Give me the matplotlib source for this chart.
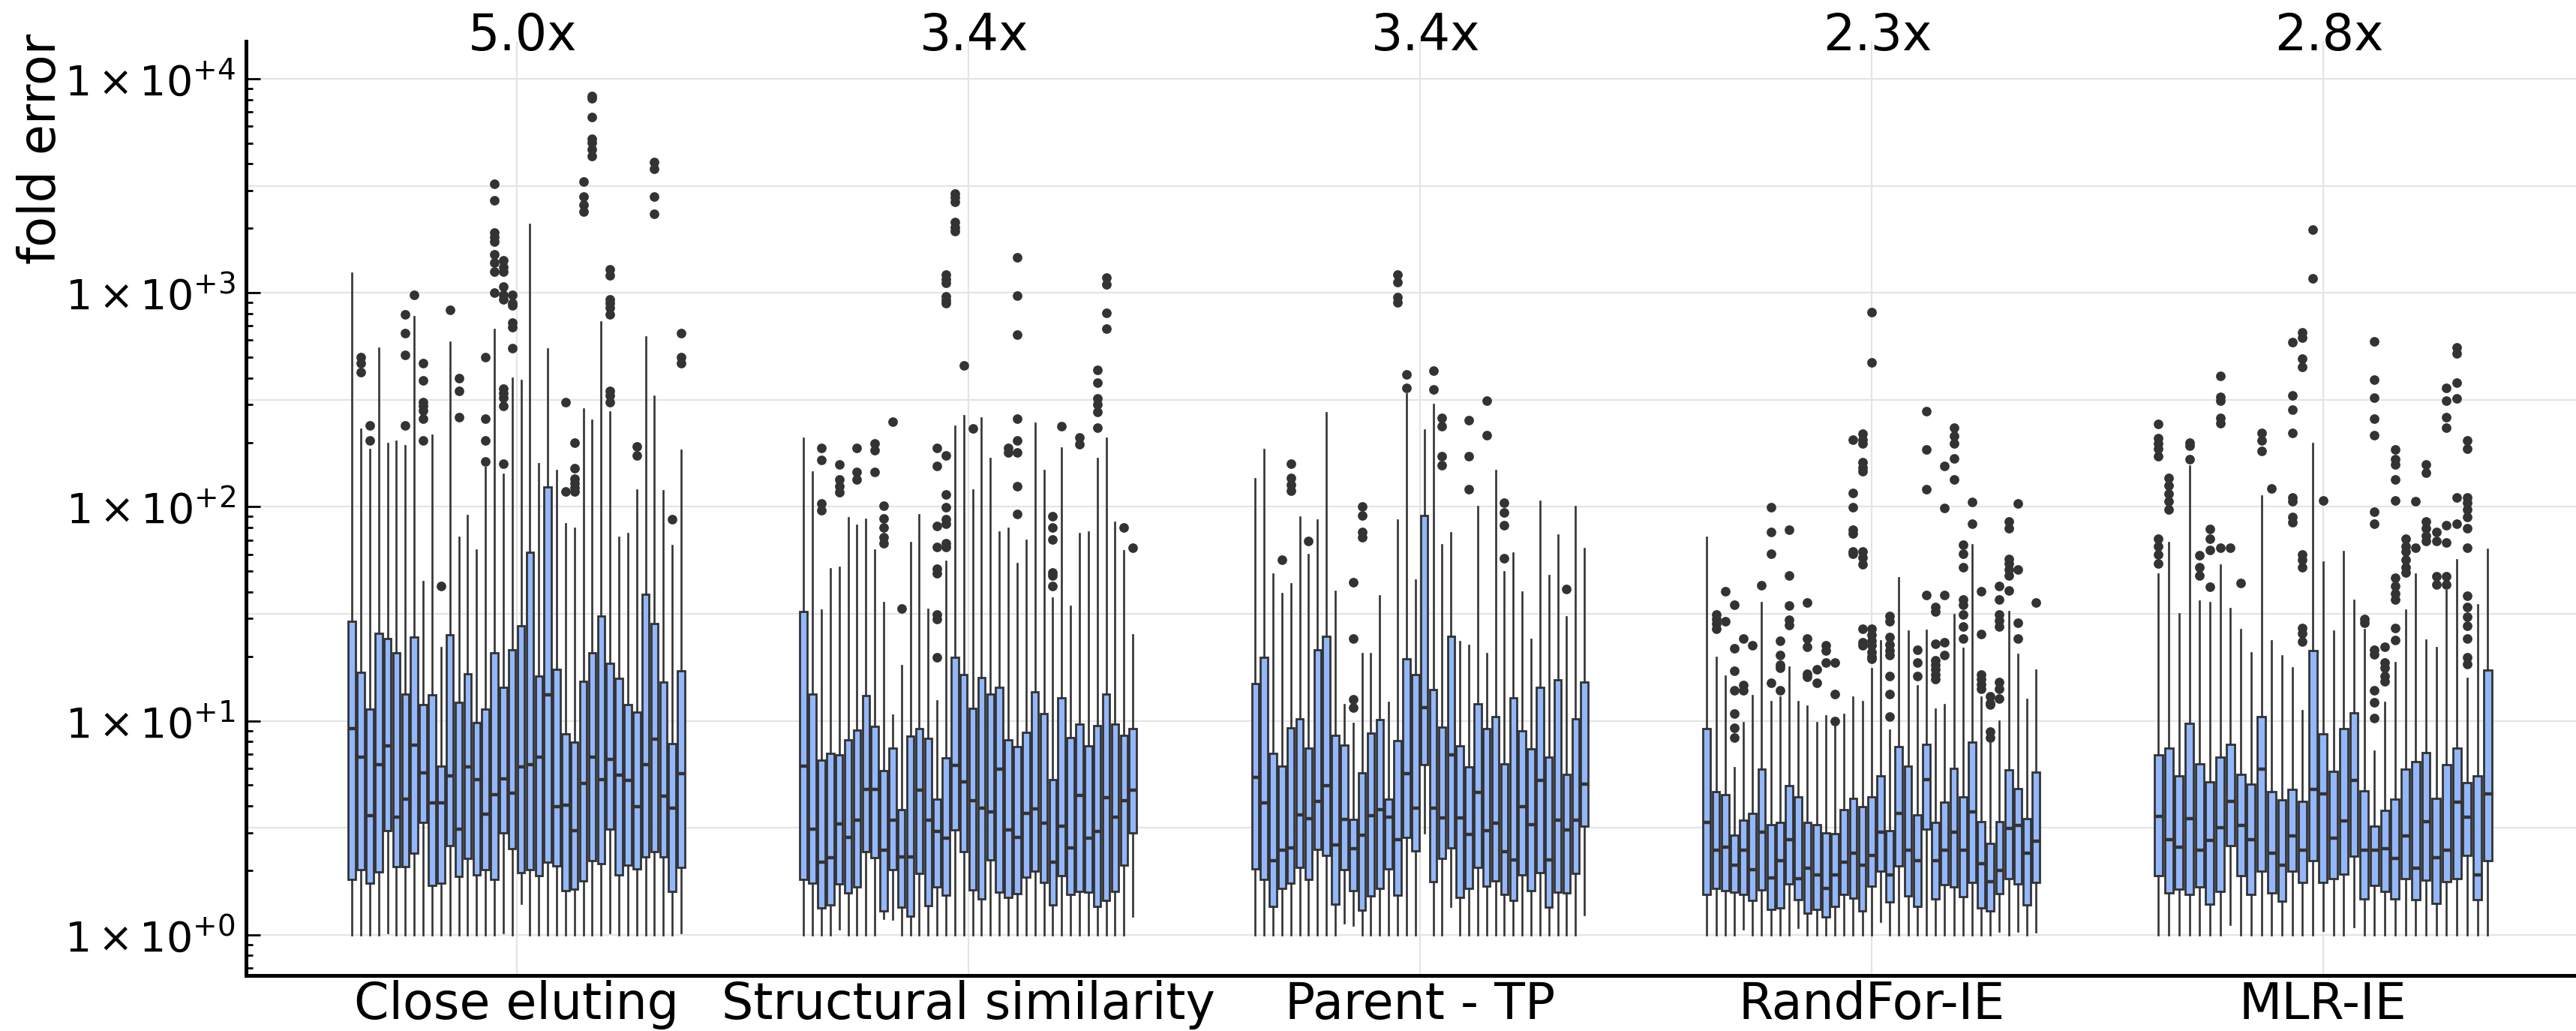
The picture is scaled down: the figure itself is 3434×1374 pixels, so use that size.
import numpy as np
import matplotlib
matplotlib.use("Agg")
import matplotlib.pyplot as plt
from matplotlib.ticker import FixedLocator, NullFormatter

FONT = "DejaVu Sans"
plt.rcParams["font.family"] = [FONT]
plt.rcParams["mathtext.fontset"] = "custom"
plt.rcParams["mathtext.rm"] = FONT
plt.rcParams["mathtext.it"] = FONT
plt.rcParams["mathtext.bf"] = FONT

# ---------------- data (in log10 of fold error) -------------
categories = ["Close eluting", "Structural similarity", "Parent - TP", "RandFor-IE", "MLR-IE"]
fold_labels = ["5.0x", "3.4x", "3.4x", "2.3x", "2.8x"]
ytick_exponents = [0, 1, 2, 3, 4]

# --- Close eluting (38 boxes)
g1_q3 = [1.464,1.227,1.054,1.407,1.383,1.316,1.126,1.390,1.077,1.123,0.788,1.402,1.086,1.220,0.993,1.054,1.316,1.156,1.331,1.444,
         1.788,1.210,2.091,1.240,0.938,0.901,1.185,1.316,1.491,1.267,1.198,1.074,1.040,1.590,1.454,1.180,0.894,1.232]
g1_med = [0.963,0.832,0.556,0.795,0.884,0.551,0.635,0.886,0.756,0.615,0.617,0.741,0.494,0.783,0.726,0.565,0.654,0.728,0.662,0.785,
          0.795,0.832,1.121,0.598,0.605,0.486,0.709,0.832,0.726,0.820,0.746,0.723,0.598,0.795,0.914,0.647,0.593,0.753]
g1_q1 = [0.259,0.304,0.240,0.294,0.486,0.319,0.319,0.383,0.526,0.230,0.242,0.415,0.272,0.358,0.279,0.306,0.259,0.477,0.402,0.291,
         0.304,0.277,0.338,0.323,0.207,0.212,0.252,0.348,0.333,0.494,0.281,0.326,0.309,0.365,0.388,0.365,0.202,0.314]
g1_whishi = [3.091,2.363,2.267,2.741,2.296,2.306,2.286,2.889,1.649,2.333,1.341,2.768,1.859,1.960,1.798,2.183,2.830,2.153,2.600,2.590,
             3.321,2.202,2.738,2.170,1.919,1.899,2.457,2.405,2.862,2.442,1.859,1.874,2.079,2.795,2.516,2.074,1.820,2.264]
g1_whislo = [0.0,0.0,0.0,0.0,0.01,0.0,0.0,0.0,0.0,0.0,0.0,0.0,0.0,0.0,0.0,0.0,0.0,0.01,0.0,0.146,
             0.0,0.0,0.0,0.0,0.0,0.0,0.0,0.0,0.0,0.01,0.0,0.0,0.0,0.0,0.0,0.0,0.0,0.01]
g1_fliers = [
    [], [2.70,2.67,2.63], [2.38,2.31], [], [], [], [2.90,2.81,2.71,2.38], [2.99],
    [2.67,2.59,2.49,2.47,2.45,2.41,2.31], [], [1.63], [2.92], [2.60,2.54,2.42], [], [],
    [2.70,2.41,2.31,2.21], [3.51,3.43,3.28,3.26,3.24,3.18,3.14,3.10,3.00],
    [3.15,3.12,3.10,3.03,2.99,2.97,2.55,2.53,2.51,2.47,2.20], [2.99,2.95,2.94,2.86,2.84,2.74],
    [], [], [], [], [], [2.49,2.07], [2.30,2.18,2.13,2.11,2.09,2.07], [3.52,3.45,3.41,3.38],
    [3.92,3.91,3.82,3.72,3.70,3.67,3.64], [], [3.11,3.08,2.97,2.95,2.93,2.90,2.54,2.52,2.49],
    [], [], [2.28,2.24], [], [3.61,3.58,3.45,3.37], [], [1.94], [2.81,2.70,2.67]]

# --- Structural similarity (38 boxes)
g2_q3 = [1.509,1.126,0.815,0.847,0.840,0.912,0.957,1.119,0.973,0.766,0.874,0.586,0.928,0.964,0.917,0.635,0.827,1.295,1.216,1.059,
         1.203,1.126,1.158,0.910,0.878,0.946,1.137,1.032,0.725,1.108,0.923,0.986,0.883,0.977,1.126,0.984,0.932,0.964]
g2_med = [0.788,0.495,0.338,0.360,0.518,0.455,0.536,0.680,0.680,0.394,0.534,0.365,0.365,0.676,0.534,0.484,0.450,0.793,0.716,0.626,
          0.592,0.574,0.773,0.491,0.455,0.568,0.590,0.523,0.338,0.507,0.405,0.653,0.450,0.484,0.642,0.550,0.626,0.676]
g2_q1 = [0.259,0.241,0.124,0.140,0.236,0.196,0.225,0.387,0.360,0.113,0.304,0.128,0.086,0.288,0.135,0.225,0.185,0.491,0.390,0.209,
         0.169,0.349,0.198,0.173,0.191,0.270,0.297,0.243,0.140,0.275,0.189,0.203,0.198,0.131,0.162,0.203,0.327,0.477]
g2_whishi = [2.320,2.162,1.518,1.712,1.716,1.950,1.914,1.941,1.797,1.554,1.025,1.257,1.833,1.964,1.520,1.092,1.745,2.376,2.426,2.079,
             2.414,2.225,1.881,1.901,1.734,1.842,2.392,2.171,1.572,2.275,1.536,1.874,1.881,2.225,2.320,1.926,1.795,1.401]
g2_whislo = [0.0,0.0,0.0,0.0,0.027,0.0,0.0,0.0,0.0,0.077,0.074,0.0,0.0,0.0,0.0,0.0,0.0,0.0,0.0,0.0,
             0.0,0.0,0.0,0.0,0.0,0.0,0.0,0.0,0.0,0.0,0.0,0.0,0.0,0.0,0.0,0.0,0.0,0.086]
g2_fliers = [
    [], [], [2.275,2.218,2.016,1.982], [], [2.196,2.128,2.095,2.068], [], [2.275,2.162,2.128], [],
    [2.297,2.264,2.162], [2.005,1.944,1.903,1.858,1.829], [2.399], [1.525], [], [], [],
    [2.275,2.189,1.910,1.813,1.712,1.689,1.498,1.475,1.295],
    [3.085,3.065,3.047,2.982,2.965,2.953,2.241,2.056,1.998,1.941,1.921,1.829,1.811],
    [3.464,3.446,3.423,3.329,3.305,3.288], [2.662], [2.365], [], [], [], [2.275,2.252],
    [3.167,2.986,2.803,2.410,2.309,2.252,2.095,1.966], [], [], [],
    [1.955,1.903,1.847,1.694,1.678,1.628], [2.376], [], [2.324,2.291], [],
    [2.640,2.579,2.507,2.477,2.444,2.369], [3.070,3.038,2.906,2.832], [], [1.903], [1.809]]

# --- Parent - TP (38 boxes)
g3_q3 = [1.175,1.296,0.847,0.788,0.968,1.010,0.874,1.333,1.395,0.933,0.886,0.538,0.758,0.943,1.007,0.635,0.909,1.291,1.215,1.958,
         1.146,0.970,1.395,0.884,0.785,1.079,0.963,1.020,0.798,1.106,0.953,0.869,1.156,0.832,1.193,0.748,1.010,1.180]
g3_med = [0.736,0.617,0.346,0.395,0.407,0.560,0.543,0.622,0.696,0.420,0.538,0.402,0.464,0.556,0.585,0.551,0.444,0.753,0.593,1.062,
          0.593,0.548,0.840,0.548,0.469,0.667,0.486,0.523,0.390,0.351,0.600,0.514,0.723,0.351,0.536,0.489,0.536,0.704]
g3_q1 = [0.309,0.259,0.131,0.217,0.240,0.314,0.259,0.400,0.370,0.143,0.306,0.205,0.116,0.180,0.217,0.309,0.185,0.454,0.393,0.795,
         0.247,0.358,0.407,0.173,0.215,0.316,0.227,0.252,0.190,0.160,0.281,0.205,0.289,0.128,0.198,0.195,0.286,0.506]
g3_whishi = [2.131,2.269,1.684,1.593,1.640,1.953,1.778,1.938,2.440,1.605,1.074,0.988,1.314,1.314,1.585,1.086,1.938,2.526,1.659,2.358,
             2.479,1.822,1.877,1.370,1.351,2.000,1.314,2.168,1.696,1.783,1.600,1.380,2.027,1.679,1.869,1.486,2.000,1.805]
g3_whislo = [0.0,0.0,0.0,0.0,0.0,0.0,0.0,0.0,0.0,0.0,0.054,0.044,0.0,0.0,0.0,0.0,0.0,0.0,0.0,0.477,
             0.0,0.0,0.131,0.0,0.0,0.0,0.0,0.0,0.0,0.0,0.0,0.0,0.0,0.0,0.0,0.0,0.0,0.094]
g3_fliers = [
    [], [], [], [1.751], [2.200,2.133,2.104,2.074], [], [1.840], [], [], [], [],
    [1.647,1.383,1.099,1.062], [2.000,1.958,1.881,1.857], [], [], [],
    [3.086,3.049,2.980,2.956], [2.617,2.556], [], [], [2.635,2.548], [2.415,2.375,2.235,2.195],
    [], [], [2.405,2.237,2.081], [], [2.494,2.333], [], [2.020,1.973,1.914,1.760],
    [], [], [], [], [], [], [1.615], [], []]

# --- RandFor-IE (37 boxes)
g4_q3 = [0.964,0.668,0.654,0.465,0.537,0.567,0.773,0.516,0.526,0.697,0.646,0.526,0.516,0.477,0.473,0.584,0.637,0.598,0.643,0.744,
         0.488,0.880,0.789,0.561,0.891,0.526,0.619,0.777,0.643,0.900,0.528,0.426,0.528,0.769,0.683,0.543,0.759]
g4_med = [0.526,0.395,0.411,0.327,0.395,0.304,0.479,0.266,0.345,0.446,0.263,0.310,0.280,0.216,0.280,0.339,0.380,0.324,0.370,0.479,
          0.280,0.569,0.397,0.345,0.724,0.345,0.397,0.479,0.395,0.576,0.331,0.248,0.301,0.496,0.511,0.380,0.438]
g4_q1 = [0.189,0.216,0.207,0.199,0.189,0.160,0.210,0.119,0.126,0.236,0.164,0.102,0.117,0.084,0.134,0.187,0.172,0.113,0.228,0.298,
         0.152,0.321,0.181,0.134,0.493,0.167,0.234,0.222,0.178,0.243,0.126,0.111,0.193,0.261,0.236,0.138,0.243]
g4_whishi = [1.858,1.297,1.209,0.780,0.993,1.116,1.554,1.090,1.110,1.250,1.088,1.070,0.991,1.024,0.992,1.031,1.110,1.089,1.244,1.373,
             0.955,1.667,1.419,1.164,1.423,1.053,1.074,1.498,1.337,1.824,1.109,0.898,0.997,1.509,1.311,1.101,1.238]
g4_whislo = [0.0,0.0,0.0,0.0,0.026,0.0,0.0,0.0,0.0,0.0,0.033,0.0,0.0,0.0,0.0,0.0,0.0,0.0,0.0,0.064,
             0.0,0.0,0.0,0.0,0.0,0.0,0.0,0.0,0.0,0.0,0.0,0.0,0.018,0.0,0.018,0.0,0.014]
g4_fliers = [
    [], [1.498,1.475,1.453,1.430], [1.606,1.464], [1.543,1.340,1.232,1.144,1.032,0.968,0.923],
    [1.383,1.167,1.142], [1.351], [1.633], [1.998,1.881,1.779,1.178], [1.374,1.306,1.262,1.246,1.144],
    [1.892,1.678,1.538,1.471,1.448], [], [1.554,1.383,1.345,1.221,1.205], [1.239,1.176],
    [1.351,1.329,1.273], [1.273,1.126,0.998], [], [2.313,2.065,1.998,1.892,1.874,1.791,1.779],
    [2.342,2.313,2.297,2.207,2.185,2.167,1.791,1.764,1.730,1.430,1.367,1.351],
    [2.910,2.676,1.430,1.401,1.374,1.351,1.322,1.300,1.291], [],
    [1.491,1.464,1.392,1.356,1.329,1.306,1.209,1.126,1.020], [], [], [1.333,1.273,1.209],
    [2.448,2.268,2.083,1.586], [1.532,1.509,1.360,1.284,1.261,1.239,1.216,1.194],
    [2.189,1.995,1.588,1.367,1.306], [2.369,2.331,2.297,2.225,2.128],
    [1.824,1.779,1.716,1.565,1.543,1.498,1.441,1.385], [2.023,1.921],
    [1.604,1.405,1.216,1.194,1.171,1.149], [1.115,1.081,1.074,0.950,0.923],
    [1.628,1.565,1.498,1.468,1.441,1.182,1.149,1.104], [1.932,1.899,1.757,1.734,1.707,1.678,1.610],
    [2.016,1.707,1.459,1.383], [], [1.554]]

# --- MLR-IE (33 boxes)
g5_q3 = [0.841,0.874,0.742,0.989,0.800,0.716,0.829,0.890,0.748,0.704,1.021,0.669,0.631,0.678,0.623,1.328,0.940,0.765,0.964,1.037,
         0.674,0.508,0.581,0.634,0.773,0.808,0.853,0.639,0.794,0.873,0.710,0.744,1.236]
g5_med = [0.555,0.446,0.409,0.543,0.395,0.440,0.502,0.623,0.511,0.446,0.775,0.383,0.324,0.461,0.395,0.680,0.657,0.450,0.532,0.722,
          0.395,0.397,0.401,0.356,0.461,0.310,0.528,0.362,0.395,0.621,0.551,0.280,0.658]
g5_q1 = [0.275,0.196,0.214,0.190,0.225,0.144,0.202,0.415,0.278,0.190,0.296,0.196,0.158,0.296,0.243,0.345,0.243,0.263,0.284,0.368,
         0.167,0.231,0.202,0.169,0.263,0.164,0.255,0.148,0.249,0.261,0.371,0.164,0.345]
g5_whishi = [1.684,1.832,1.501,2.190,1.560,1.551,1.728,1.526,1.425,1.316,2.049,1.375,1.304,1.247,1.049,2.296,1.741,1.420,1.790,1.563,
             1.427,0.857,1.086,1.272,1.519,1.684,1.378,1.341,1.610,1.753,1.198,1.543,1.802]
g5_whislo = [0.0,0.0,0.0,0.0,0.0,0.0,0.0,0.047,0.0,0.0,0.0,0.0,0.0,0.0,0.0,0.0,0.021,0.0,0.0,0.037,
             0.0,0.0,0.0,0.0,0.0,0.0,0.0,0.0,0.0,0.0,0.0,0.0,0.0]
g5_fliers = [
    [2.388,2.321,2.296,2.272,2.235,1.852,1.815,1.778,1.736], [2.136,2.099,2.062,2.025,1.988], [],
    [2.301,2.284,2.222], [1.773,1.716,1.679], [1.896,1.852,1.798,1.625],
    [2.612,2.514,2.494,2.415,2.390,1.807], [1.807], [1.642], [], [2.346,2.309,2.259], [2.086], [],
    [2.770,2.519,2.452,2.346,2.044,2.025,1.951,1.926],
    [2.815,2.790,2.691,2.654,1.778,1.753,1.716,1.432,1.407,1.370], [3.296,3.067], [2.030], [], [], [],
    [1.474,1.457], [2.773,2.593,2.511,2.412,2.333,1.975,1.919,1.333,1.309,1.143,1.086,1.012],
    [1.346,1.272,1.247,1.210,1.185],
    [2.267,2.222,2.198,2.128,2.030,1.667,1.630,1.593,1.568,1.432,1.378],
    [1.852,1.815,1.790,1.753,1.716,1.691], [2.025,1.807], [2.198,2.160,1.931,1.901,1.864,1.840],
    [1.881,1.840,1.674,1.635], [2.556,2.494,2.420,2.370,1.914,1.832,1.674,1.635],
    [2.746,2.716,2.580,2.506,2.044,1.921],
    [2.309,2.272,2.044,2.020,1.988,1.951,1.901,1.807,1.585,1.531,1.486,1.444,1.383,1.296,1.264],
    [], []]

groups = [
    (g1_q1, g1_med, g1_q3, g1_whislo, g1_whishi, g1_fliers),
    (g2_q1, g2_med, g2_q3, g2_whislo, g2_whishi, g2_fliers),
    (g3_q1, g3_med, g3_q3, g3_whislo, g3_whishi, g3_fliers),
    (g4_q1, g4_med, g4_q3, g4_whislo, g4_whishi, g4_fliers),
    (g5_q1, g5_med, g5_q3, g5_whislo, g5_whishi, g5_fliers),
]

# ---------------- styling -------------
FILL = "#93b7fb"
EDGE = "#333333"
GRID = "#e4e4e4"
FS = 24
FS_TICK = 20
W, H, DPI = 3434, 1374, 200

fig = plt.figure(figsize=(W / DPI, H / DPI), dpi=DPI)
left_px, right_px, top_px, bottom_px = 328, 3434, 55, 1300
ax = fig.add_axes([left_px / W, 1 - bottom_px / H, (right_px - left_px) / W, (bottom_px - top_px) / H])

ax.set_yscale("log")
ax.set_ylim(10 ** -0.19, 10 ** 4.175)
ax.set_xlim(0.401, 5.56)

# grid: verticals at categories, horizontals at every half decade
for k in range(len(categories)):
    ax.axvline(k + 1, color=GRID, lw=0.8, zorder=0)
for e in np.arange(0, 4.01, 0.5):
    ax.axhline(10 ** e, color=GRID, lw=0.8, zorder=0)

HALF_SPAN = 0.3645
for k, (q1, med, q3, lo, hi, fl) in enumerate(groups):
    n = len(q1)
    offs = np.linspace(-HALF_SPAN, HALF_SPAN, n)
    spacing = 2 * HALF_SPAN / (n - 1)
    stats = []
    for i in range(n):
        stats.append(dict(med=10 ** med[i], q1=10 ** q1[i], q3=10 ** q3[i],
                          whislo=10 ** lo[i], whishi=10 ** hi[i],
                          fliers=10 ** np.asarray(fl[i], dtype=float)))
    ax.bxp(stats, positions=(k + 1) + offs, widths=0.8 * spacing,
           patch_artist=True, showcaps=False, manage_ticks=False,
           boxprops=dict(facecolor=FILL, edgecolor=EDGE, linewidth=1.0),
           medianprops=dict(color=EDGE, linewidth=1.6, solid_capstyle="butt"),
           whiskerprops=dict(color=EDGE, linewidth=0.95),
           flierprops=dict(marker="o", markerfacecolor=EDGE, markeredgecolor=EDGE,
                           markersize=4.6, markeredgewidth=0.0))
    ax.text(k + 1 + 0.013, 1.0056, fold_labels[k], transform=ax.get_xaxis_transform(),
            ha="center", va="center", fontsize=FS)

# axes decoration
for s in ("top", "right"):
    ax.spines[s].set_visible(False)
for s in ("left", "bottom"):
    ax.spines[s].set_linewidth(1.8)
    ax.spines[s].set_color("black")

ax.set_xticks(range(1, len(categories) + 1))
ax.set_xticklabels(categories, fontsize=FS)
ax.tick_params(axis="x", length=0, pad=2)

ax.yaxis.set_major_locator(FixedLocator([10.0 ** e for e in ytick_exponents]))
ax.set_yticklabels([r"$1\,{\times}\,10^{+%d}$" % e for e in ytick_exponents], fontsize=FS_TICK)
minor = [m * 10.0 ** e for e in range(-1, 5) for m in range(2, 10)]
ax.yaxis.set_minor_locator(FixedLocator(minor))
ax.yaxis.set_minor_formatter(NullFormatter())
ax.tick_params(axis="y", which="major", direction="in", length=7, width=1.0, pad=5, colors="black")
ax.tick_params(axis="y", which="minor", direction="in", length=3.3, width=1.0)

ax.set_ylabel("fold error", fontsize=FS, va="center")
ax.yaxis.set_label_coords(-0.088, 0.885)

fig.savefig("out.png", dpi=DPI)
